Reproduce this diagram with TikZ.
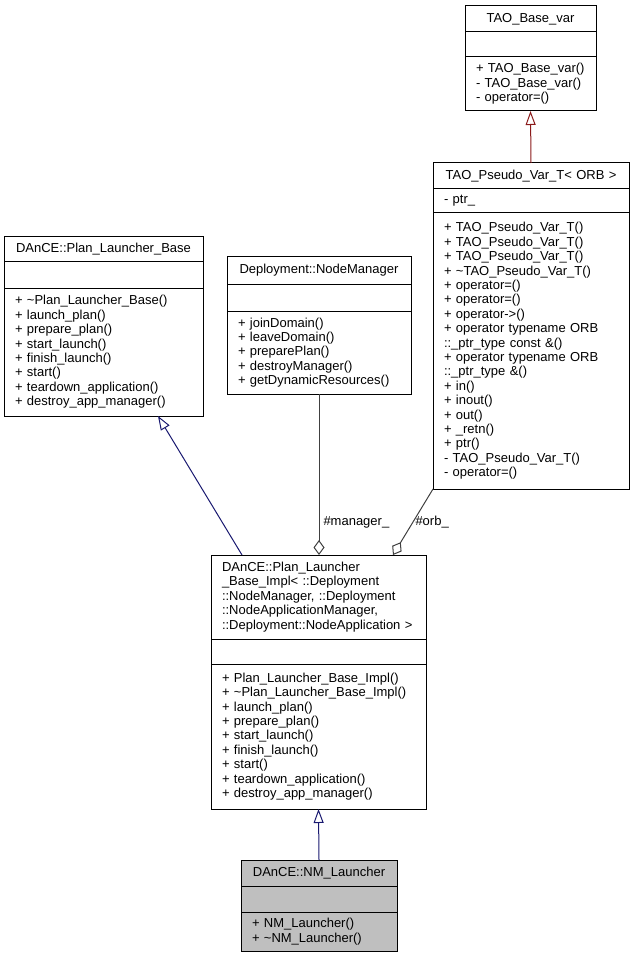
\documentclass[tikz,border=0pt]{standalone}
\usepackage{fontspec}
\setmainfont{Liberation Sans}
\usetikzlibrary{calc,positioning,arrows.meta}
\definecolor{inhblue}{RGB}{25,25,112}
\definecolor{inhred}{RGB}{139,26,26}
\definecolor{usegray}{RGB}{64,64,64}
\definecolor{curfill}{RGB}{191,191,191}
\tikzset{
  cls/.style={draw, line width=1pt, inner xsep=11pt, inner ysep=0pt, outer sep=0pt,
    font=\fontsize{13}{14.4}\selectfont, align=left},
  clsname/.style={cls, align=center},
  inh/.style={-{Triangle[open,length=14pt,width=10pt]}, line width=1pt},
  use/.style={usegray, -{Diamond[open,length=15pt,width=11pt]}, line width=1pt},
  lbl/.style={font=\fontsize{13}{14.4}\selectfont, text=black, inner sep=1pt}
}

\begin{document}
\begin{tikzpicture}[x=1pt,y=-1pt]
\useasboundingbox (0,0) rectangle (633,957);

% TAO_Base_var
\node[clsname, text width=109pt, minimum height=26pt, anchor=north west] (tbvN) at (465,6) {TAO\_Base\_var};
\node[cls, text width=109pt, minimum height=25pt, below=0pt of tbvN] (tbvA) {};
\node[cls, text width=109pt, minimum height=54pt, below=0pt of tbvA] (tbvM) {+ TAO\_Base\_var()\\- TAO\_Base\_var()\\- operator=()};

% TAO_Pseudo_Var_T
\node[clsname, text width=174pt, minimum height=26pt, anchor=north west] (tpvN) at (433,163) {TAO\_Pseudo\_Var\_T< ORB >};
\node[cls, text width=174pt, minimum height=24pt, below=0pt of tpvN] (tpvA) {- ptr\_};
\node[cls, text width=174pt, minimum height=276pt, below=0pt of tpvA] (tpvM) {+ TAO\_Pseudo\_Var\_T()\\+ TAO\_Pseudo\_Var\_T()\\+ TAO\_Pseudo\_Var\_T()\\+ \textasciitilde TAO\_Pseudo\_Var\_T()\\+ operator=()\\+ operator=()\\+ operator->()\\+ operator typename ORB\\::\_ptr\_type const \&()\\+ operator typename ORB\\::\_ptr\_type \&()\\+ in()\\+ inout()\\+ out()\\+ \_retn()\\+ ptr()\\- TAO\_Pseudo\_Var\_T()\\- operator=()};

% DAnCE::Plan_Launcher_Base
\node[clsname, text width=177pt, minimum height=25pt, anchor=north west] (plbN) at (4,237) {DAnCE::Plan\_Launcher\_Base};
\node[cls, text width=177pt, minimum height=26pt, below=0pt of plbN] (plbA) {};
\node[cls, text width=177pt, minimum height=128pt, below=0pt of plbA] (plbM) {+ \textasciitilde Plan\_Launcher\_Base()\\+ launch\_plan()\\+ prepare\_plan()\\+ start\_launch()\\+ finish\_launch()\\+ start()\\+ teardown\_application()\\+ destroy\_app\_manager()};

% Deployment::NodeManager
\node[clsname, text width=162pt, minimum height=27pt, anchor=north west] (nmN) at (227,257) {Deployment::NodeManager};
\node[cls, text width=162pt, minimum height=27pt, below=0pt of nmN] (nmA) {};
\node[cls, text width=162pt, minimum height=83pt, below=0pt of nmA] (nmM) {+ joinDomain()\\+ leaveDomain()\\+ preparePlan()\\+ destroyManager()\\+ getDynamicResources()};

% DAnCE::Plan_Launcher_Base_Impl
\node[cls, text width=193pt, minimum height=84pt, anchor=north west] (pliN) at (211,555) {DAnCE::Plan\_Launcher\\\_Base\_Impl< ::Deployment\\::NodeManager, ::Deployment\\::NodeApplicationManager,\\::Deployment::NodeApplication >};
\node[cls, text width=193pt, minimum height=25pt, below=0pt of pliN] (pliA) {};
\node[cls, text width=193pt, minimum height=145pt, below=0pt of pliA] (pliM) {+ Plan\_Launcher\_Base\_Impl()\\+ \textasciitilde Plan\_Launcher\_Base\_Impl()\\+ launch\_plan()\\+ prepare\_plan()\\+ start\_launch()\\+ finish\_launch()\\+ start()\\+ teardown\_application()\\+ destroy\_app\_manager()};

% DAnCE::NM_Launcher
\node[clsname, fill=curfill, text width=134pt, minimum height=26pt, anchor=north west] (nmlN) at (241,860) {DAnCE::NM\_Launcher};
\node[cls, fill=curfill, text width=134pt, minimum height=26pt, below=0pt of nmlN] (nmlA) {};
\node[cls, fill=curfill, text width=134pt, minimum height=39pt, below=0pt of nmlA] (nmlM) {+ NM\_Launcher()\\+ \textasciitilde NM\_Launcher()};

% inheritance
\draw[inh, inhred] (tpvN.north) -- (tbvM.south);
\draw[inh, inhblue] ($(pliN.north west)+(31,0)$) -- ($(plbM.south west)+(154,0)$);
\draw[inh, inhblue] (nmlN.north) -- (pliM.south);

% usage
\draw[use] (nmM.south) -- node[lbl, pos=0.795, right=3pt] {\#manager\_} (pliN.north -| nmM.south);
\draw[use] (tpvM.south west) -- node[lbl, pos=0.5, right=1pt] {\#orb\_} ($(pliN.north west)+(182,0)$);
\end{tikzpicture}
\end{document}
